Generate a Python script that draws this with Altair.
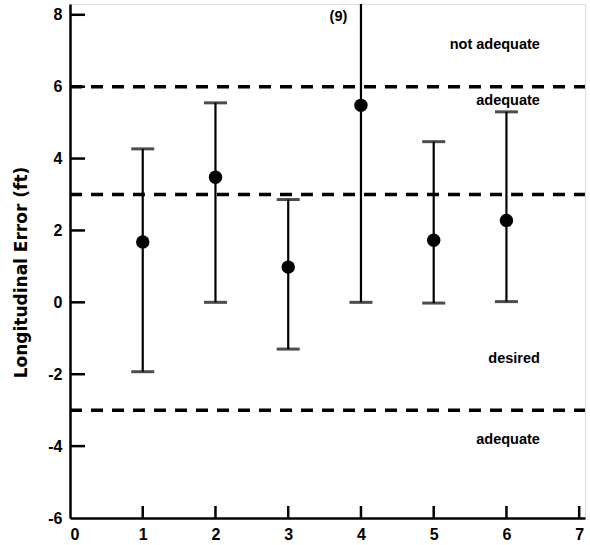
import altair as alt
import pandas as pd

# Run number, mean longitudinal error and the extent of each error bar (ft)
runs = [1, 2, 3, 4, 5, 6]
means = [1.68, 3.48, 0.98, 5.48, 1.73, 2.28]
lows = [-1.93, 0.0, -1.3, 0.0, -0.02, 0.02]
highs = [4.27, 5.55, 2.86, 9.0, 4.47, 5.3]

# Performance boundaries and the zone names written beside them
bounds = [6, 3, -3]
zone_names = ["not adequate", "adequate", "desired", "adequate"]
zone_y = [7.15, 5.6, -1.57, -3.83]

x_ticks = [1, 2, 3, 4, 5, 6, 7]
y_ticks = [8, 6, 4, 2, 0, -2, -4]

FONT = "Liberation Sans"
W, H = 515, 514
X_DOM = [0, 7.08]
Y_DOM = [-6, 8.3]

df = pd.DataFrame({"run": runs, "mean": means, "lo": lows, "hi": highs})
bounds_df = pd.DataFrame({"y": bounds})
zones_df = pd.DataFrame({"name": zone_names, "y": zone_y, "x": [6.46] * 4})
xt_df = pd.DataFrame({"x": x_ticks})
yt_df = pd.DataFrame({"y": y_ticks})

xs = alt.Scale(domain=X_DOM, nice=False, zero=False)
ys = alt.Scale(domain=Y_DOM, nice=False, zero=False)

x_axis = alt.Axis(
    values=[0] + x_ticks, labelExpr="toString(datum.value)", ticks=False,
    grid=False, domainWidth=2.5, domainColor="black", labelFont=FONT,
    labelFontSize=16, labelFontWeight="bold", labelColor="black",
    labelPadding=8, title=None,
)
y_axis = alt.Axis(
    values=[8, 6, 4, 2, 0, -2, -4, -6], labelExpr="toString(datum.value)",
    ticks=False, grid=False, domainWidth=2.5, domainColor="black",
    labelFont=FONT, labelFontSize=16, labelFontWeight="bold",
    labelColor="black", labelPadding=8,
    title="Longitudinal Error (ft)", titleFont="DejaVu Sans", titleFontSize=17,
    titleFontWeight="bold", titleColor="black", titlePadding=17, titleY=268,
)

base = alt.Chart(df)

whiskers = base.mark_rule(color="black", strokeWidth=2.2, clip=True).encode(
    x=alt.X("run:Q", scale=xs, axis=x_axis),
    y=alt.Y("lo:Q", scale=ys, axis=y_axis),
    y2="hi:Q",
)
cap_lo = base.mark_tick(orient="horizontal", color="black", size=23,
                        thickness=3, clip=True).encode(
    x=alt.X("run:Q", scale=xs), y=alt.Y("lo:Q", scale=ys))
cap_hi = base.mark_tick(orient="horizontal", color="black", size=23,
                        thickness=3, clip=True).encode(
    x=alt.X("run:Q", scale=xs), y=alt.Y("hi:Q", scale=ys))
dots = base.mark_point(filled=True, color="black", opacity=1, size=180,
                       shape="circle").encode(
    x=alt.X("run:Q", scale=xs), y=alt.Y("mean:Q", scale=ys))

dashed = alt.Chart(bounds_df).mark_rule(
    color="black", strokeWidth=3.5, strokeDash=[12, 9]
).encode(y=alt.Y("y:Q", scale=ys), x=alt.value(0), x2=alt.value(W))

zone_text = alt.Chart(zones_df).mark_text(
    font=FONT, fontSize=14.5, fontWeight="bold", align="right",
    baseline="middle", color="black",
).encode(x=alt.X("x:Q", scale=xs), y=alt.Y("y:Q", scale=ys), text="name:N")

# Label for the run whose upper error bound runs off the top of the axis
off_scale = alt.Chart(pd.DataFrame({"x": [3.69], "y": [7.93], "t": ["(9)"]})).mark_text(
    font=FONT, fontSize=14.5, fontWeight="bold", align="center",
    baseline="middle", color="black",
).encode(x=alt.X("x:Q", scale=xs), y=alt.Y("y:Q", scale=ys), text="t:N")

# Inward-pointing tick marks on both axes
x_tick_marks = alt.Chart(xt_df).mark_rule(color="black", strokeWidth=2.5).encode(
    x=alt.X("x:Q", scale=xs), y=alt.value(H), y2=alt.value(H - 12))
y_tick_marks = alt.Chart(yt_df).mark_rule(color="black", strokeWidth=2.5).encode(
    y=alt.Y("y:Q", scale=ys), x=alt.value(0), x2=alt.value(15))

chart = alt.layer(
    dashed, whiskers, cap_lo, cap_hi, dots, zone_text, off_scale,
    x_tick_marks, y_tick_marks,
).properties(
    width=W, height=H,
    autosize=alt.AutoSizeParams(type="none"),
    padding={"left": 70, "top": 4, "right": 5, "bottom": 27},
).configure_view(stroke=None).configure(background="white")

chart.save("out.html", embed_options={"renderer": "svg", "actions": False})
